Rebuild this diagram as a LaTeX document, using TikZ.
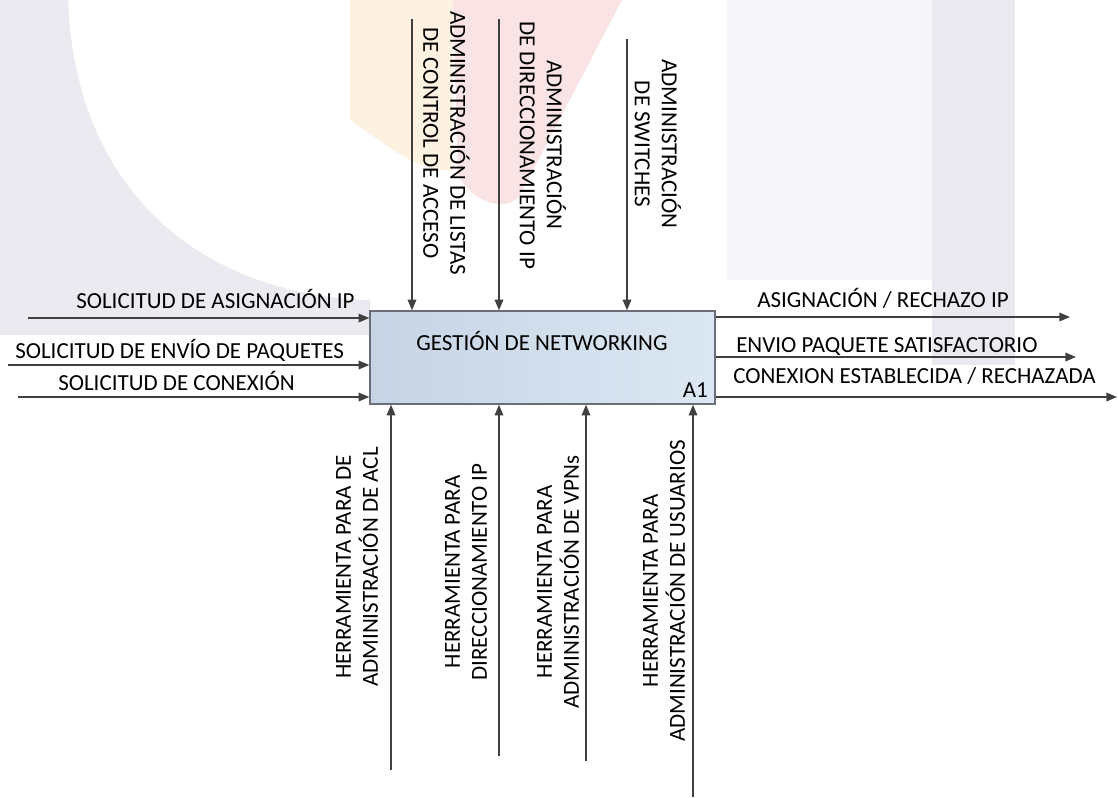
\documentclass[tikz,border=0pt]{standalone}
\usepackage{fontspec}
\setmainfont{Carlito}
\usetikzlibrary{arrows.meta}

\definecolor{wmgray}{RGB}{234,234,240}
\definecolor{wmlight}{RGB}{246,246,249}
\definecolor{wmpeach}{RGB}{253,241,226}
\definecolor{wmpink}{RGB}{249,227,229}
\definecolor{flowgray}{RGB}{64,64,64}
\definecolor{boxedge}{RGB}{105,110,120}
\definecolor{boxleft}{RGB}{198,212,229}
\definecolor{boxright}{RGB}{219,231,242}

\tikzset{
	flow/.style = {draw = flowgray, line width = 1pt, -{Triangle[length = 8pt, width = 6.5pt]}},
	lbl/.style = {inner sep = 0pt, text = black, font = \fontsize{17.25}{20.25}\selectfont},
	vlbl/.style = {lbl, align = center},
	actbox/.style = {draw = boxedge, line width = 1.1pt, left color = boxleft, right color = boxright,
		minimum width = 258.75pt, minimum height = 69.75pt, inner sep = 0pt}
}

\begin{document}
\begin{tikzpicture}[x = 0.75pt, y = -0.75pt]
	\useasboundingbox (0,0) rectangle (1118,797);

	% watermark
	\fill[wmgray] (0,0) -- (68,0) .. controls (75,190) and (200,295) .. (370,300) -- (370,335) -- (0,335) -- cycle;
	\fill[wmlight] (727,0) rectangle (932,280);
	\fill[wmgray] (932,0) rectangle (1015,365);
	\fill[wmpeach] (350,0) -- (453,0) -- (453,170) .. controls (420,175) and (380,140) .. (350,120) -- cycle;
	\fill[wmpink] (453,0) -- (622,0) -- (520,195) .. controls (505,215) and (470,200) .. (458,175) -- cycle;

	% activity
	\node[actbox] (act) at (542.5,357.5) {};
	\node[lbl, anchor = base] (acttitle) at (542,350) {GESTIÓN DE NETWORKING};
	\node[lbl, anchor = base east] (actid) at (708,397) {A1};

	% inputs
	\coordinate (i1) at (28,318);
	\coordinate (i2) at (8,365);
	\coordinate (i3) at (18,397);
	\draw[flow] (i1) -- (i1 -| act.west);
	\draw[flow] (i2) -- (i2 -| act.west);
	\draw[flow] (i3) -- (i3 -| act.west);
	\node[lbl, anchor = base west] (in1) at (76,308) {SOLICITUD DE ASIGNACIÓN IP};
	\node[lbl, anchor = base west] (in2) at (15,358) {SOLICITUD DE ENVÍO DE PAQUETES};
	\node[lbl, anchor = base west] (in3) at (58,390) {SOLICITUD DE CONEXIÓN};

	% outputs
	\coordinate (o1) at (1070,317);
	\coordinate (o2) at (1076,357);
	\coordinate (o3) at (1117,397);
	\draw[flow] (o1 -| act.east) -- (o1);
	\draw[flow] (o2 -| act.east) -- (o2);
	\draw[flow] (o3 -| act.east) -- (o3);
	\node[lbl, anchor = base west] (out1) at (757,307) {ASIGNACIÓN / RECHAZO IP};
	\node[lbl, anchor = base west] (out2) at (736,352) {ENVIO PAQUETE SATISFACTORIO};
	\node[lbl, anchor = base west] (out3) at (733,383) {CONEXION ESTABLECIDA / RECHAZADA};

	% controls
	\coordinate (c1) at (412,19);
	\coordinate (c2) at (499,19);
	\coordinate (c3) at (627,39);
	\draw[flow] (c1) -- (c1 |- act.north);
	\draw[flow] (c2) -- (c2 |- act.north);
	\draw[flow] (c3) -- (c3 |- act.north);
	\node[vlbl, rotate = -90] (ctl1) at (446.5,143) {ADMINISTRACIÓN DE LISTAS\\DE CONTROL DE ACCESO};
	\node[vlbl, rotate = -90] (ctl2) at (543,145) {ADMINISTRACIÓN\\DE DIRECCIONAMIENTO IP};
	\node[vlbl, rotate = -90] (ctl3) at (658,144) {ADMINISTRACIÓN\\DE SWITCHES};

	% mechanisms
	\coordinate (m1) at (391,770);
	\coordinate (m2) at (499,756);
	\coordinate (m3) at (586,761);
	\coordinate (m4) at (693,797);
	\draw[flow] (m1) -- (m1 |- act.south);
	\draw[flow] (m2) -- (m2 |- act.south);
	\draw[flow] (m3) -- (m3 |- act.south);
	\draw[flow] (m4) -- (m4 |- act.south);
	\node[vlbl, rotate = 90] (mec1) at (357,567) {HERRAMIENTA PARA DE\\ADMINISTRACIÓN DE ACL};
	\node[vlbl, rotate = 90] (mec2) at (466,572) {HERRAMIENTA PARA\\DIRECCIONAMIENTO IP};
	\node[vlbl, rotate = 90] (mec3) at (558,582) {HERRAMIENTA PARA\\ADMINISTRACIÓN DE VPNs};
	\node[vlbl, rotate = 90] (mec4) at (664,591) {HERRAMIENTA PARA\\ADMINISTRACIÓN DE USUARIOS};
\end{tikzpicture}
\end{document}
